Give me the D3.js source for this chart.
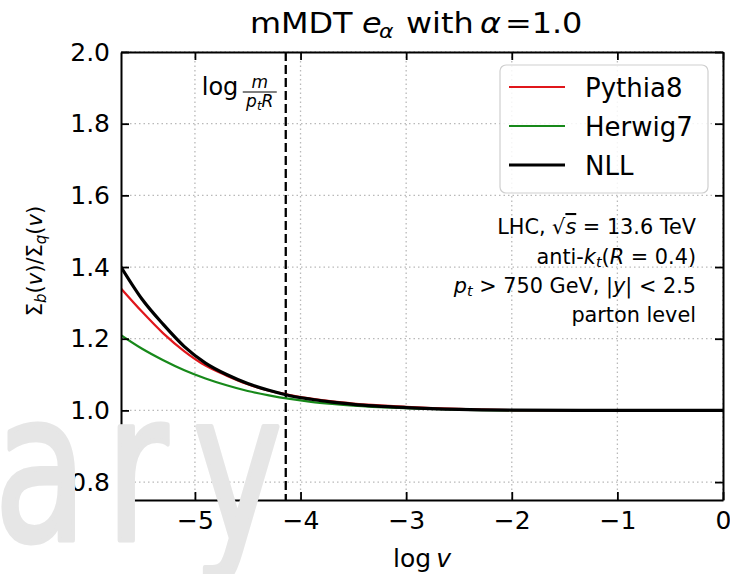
<!DOCTYPE html>
<html><head><meta charset="utf-8">
<script src="https://cdn.jsdelivr.net/npm/d3@7"></script>
<style>
body{margin:0;background:#fff}
svg{display:block}
text{font-family:"DejaVu Sans",sans-serif;fill:#000}
</style>
</head><body>
<svg id="chart" width="730" height="574"></svg>
<script>
// ---- data ----
const logv    = [-5.7, -5.5, -5.3, -5.1, -4.9, -4.7, -4.5, -4.3, -4.1, -3.9, -3.7, -3.5, -3.0, -2.5, -2.0, -1.0, 0.0];
const pythia8 = [1.340, 1.275, 1.215, 1.165, 1.125, 1.097, 1.073, 1.055, 1.043, 1.033, 1.025, 1.019, 1.010, 1.004, 1.001, 1.000, 1.000];
const herwig7 = [1.210, 1.172, 1.140, 1.112, 1.089, 1.070, 1.054, 1.042, 1.032, 1.024, 1.018, 1.013, 1.006, 1.002, 1.000, 1.000, 1.000];
const nll     = [1.400, 1.310, 1.240, 1.178, 1.132, 1.100, 1.075, 1.056, 1.041, 1.031, 1.023, 1.017, 1.008, 1.003, 1.001, 1.000, 1.000];
const seriesNames  = ["Pythia8", "Herwig7", "NLL"];
const xTicks = [-5, -4, -3, -2, -1, 0];
const yTicks = [0.8, 1.0, 1.2, 1.4, 1.6, 1.8, 2.0];
const xDomain = [-5.7, 0];
const yDomain = [0.75, 2.0];
const logMoverPtR = -4.14;

// ---- layout / style ----
const W = 730, H = 574;
const M = {left: 121, right: 7, top: 52, bottom: 74};
const colors = {"Pythia8": "#e0161b", "Herwig7": "#17891a", "NLL": "#000000"};
const widths = {"Pythia8": 2.2, "Herwig7": 2.2, "NLL": 3.2};
const seriesData = {"Pythia8": pythia8, "Herwig7": herwig7, "NLL": nll};

const svg = d3.select("#chart");
const x = d3.scaleLinear().domain(xDomain).range([M.left, W - M.right]);
const y = d3.scaleLinear().domain(yDomain).range([H - M.bottom, M.top]);

// grid
const grid = svg.append("g").attr("stroke", "#b9b9b9").attr("stroke-width", 1.3).attr("stroke-dasharray", "1.5,3");
grid.selectAll("line.gx").data(xTicks).join("line")
  .attr("x1", d => x(d)).attr("x2", d => x(d)).attr("y1", M.top).attr("y2", H - M.bottom);
grid.selectAll("line.gy").data(yTicks).join("line")
  .attr("y1", d => y(d)).attr("y2", d => y(d)).attr("x1", M.left).attr("x2", W - M.right);

// clip
svg.append("clipPath").attr("id", "clip").append("rect")
  .attr("x", M.left).attr("y", M.top).attr("width", W - M.left - M.right).attr("height", H - M.top - M.bottom);

// dashed vertical line
svg.append("line")
  .attr("x1", x(logMoverPtR)).attr("x2", x(logMoverPtR))
  .attr("y1", M.top).attr("y2", H - M.bottom)
  .attr("stroke", "#000").attr("stroke-width", 2.3).attr("stroke-dasharray", "9,4");

// curves
const line = d3.line().x((d, i) => x(logv[i])).y(d => y(d)).curve(d3.curveMonotoneX);
svg.append("g").attr("clip-path", "url(#clip)")
  .selectAll("path").data(["Herwig7", "Pythia8", "NLL"]).join("path")
  .attr("d", k => line(seriesData[k]))
  .attr("fill", "none").attr("stroke", k => colors[k]).attr("stroke-width", k => widths[k])
  .attr("stroke-linejoin", "round");

// axes (ticks pointing inward)
const fmtY = d3.format(".1f");
const fmtX = d3.format("d");
const axB = svg.append("g").attr("transform", `translate(0,${H - M.bottom})`)
  .call(d3.axisBottom(x).tickValues(xTicks).tickFormat(fmtX).tickSizeInner(-8).tickSizeOuter(0).tickPadding(11));
const axL = svg.append("g").attr("transform", `translate(${M.left},0)`)
  .call(d3.axisLeft(y).tickValues(yTicks).tickFormat(fmtY).tickSizeInner(-8).tickSizeOuter(0).tickPadding(11));
const axT = svg.append("g").attr("transform", `translate(0,${M.top})`)
  .call(d3.axisTop(x).tickValues(xTicks).tickFormat("").tickSizeInner(-8).tickSizeOuter(0));
const axR = svg.append("g").attr("transform", `translate(${W - M.right},0)`)
  .call(d3.axisRight(y).tickValues(yTicks).tickFormat("").tickSizeInner(-8).tickSizeOuter(0));
[axB, axL, axT, axR].forEach(a => {
  a.select(".domain").attr("stroke", "#000").attr("stroke-width", 2);
  a.selectAll(".tick line").attr("stroke", "#000").attr("stroke-width", 1.8);
  a.selectAll(".tick text").attr("font-family", "DejaVu Sans").attr("font-size", 25).attr("fill", "#000");
});

// legend
const lg = svg.append("g");
lg.append("rect").attr("x", 500).attr("y", 65).attr("width", 208).attr("height", 128)
  .attr("rx", 6).attr("fill", "#fff").attr("fill-opacity", 0.85).attr("stroke", "#cfcfcf").attr("stroke-width", 1.2);
const rowsY = [87, 126, 165];
const le = lg.selectAll("g.e").data(seriesNames).join("g").attr("transform", (d, i) => `translate(0,${rowsY[i]})`);
le.append("line").attr("x1", 509).attr("x2", 565).attr("y1", 0).attr("y2", 0)
  .attr("stroke", d => colors[d]).attr("stroke-width", d => widths[d]);
le.append("text").attr("x", 585).attr("y", 9.5).attr("font-size", 26).text(d => d);

// title (pieces placed along the baseline, slight horizontal stretch)
const sx = 1.1;
const title = svg.append("text").attr("transform", `translate(0,33) scale(${sx},1)`).attr("font-size", 29);
title.append("tspan").attr("x", 250 / sx).text("mMDT");
title.append("tspan").attr("x", 362 / sx).attr("font-style", "italic").text("e");
title.append("tspan").attr("x", 379 / sx).attr("font-style", "italic").attr("font-size", 20).attr("dy", 5).text("α");
title.append("tspan").attr("x", 406 / sx).attr("dy", -5).text("with");
title.append("tspan").attr("x", 480 / sx).attr("font-style", "italic").text("α");
title.append("tspan").attr("x", 505 / sx).text("=1.0");

// x label
const xl = svg.append("text").attr("x", 422).attr("y", 567).attr("text-anchor", "middle").attr("font-size", 25);
xl.append("tspan").text("log\u2009");
xl.append("tspan").attr("font-style", "italic").text("v");

// y label
const yl = svg.append("text").attr("transform", "translate(42,261) rotate(-90)").attr("text-anchor", "middle").attr("font-size", 21);
yl.append("tspan").text("Σ");
yl.append("tspan").attr("font-style", "italic").attr("font-size", 15).attr("dy", 4).text("b");
yl.append("tspan").attr("dy", -4).text("(");
yl.append("tspan").attr("font-style", "italic").text("v");
yl.append("tspan").text(")/Σ");
yl.append("tspan").attr("font-style", "italic").attr("font-size", 15).attr("dy", 4).text("q");
yl.append("tspan").attr("dy", -4).text("(");
yl.append("tspan").attr("font-style", "italic").text("v");
yl.append("tspan").text(")");

// dashed line label  log m/(p_t R)
const xc = x(logMoverPtR);
svg.append("text").attr("x", xc - 84).attr("y", 95).attr("font-size", 24).text("log");
svg.append("text").attr("x", xc - 26).attr("y", 88).attr("text-anchor", "middle").attr("font-size", 17).attr("font-style", "italic").text("m");
svg.append("line").attr("x1", xc - 43).attr("x2", xc - 9).attr("y1", 92).attr("y2", 92).attr("stroke", "#000").attr("stroke-width", 1.2);
const den = svg.append("text").attr("x", xc - 26).attr("y", 107).attr("text-anchor", "middle").attr("font-size", 17).attr("font-style", "italic");
den.append("tspan").text("p");
den.append("tspan").attr("font-size", 12).attr("dy", 3).text("t");
den.append("tspan").attr("dy", -3).text("R");

// annotation block
const ax = 696, fs = 20.8;
const t1 = svg.append("text").attr("x", ax).attr("y", 234).attr("text-anchor", "end").attr("font-size", fs);
t1.append("tspan").text("LHC, √");
t1.append("tspan").attr("font-style", "italic").attr("text-decoration", "overline").text("s");
t1.append("tspan").text(" = 13.6 TeV");
const t2 = svg.append("text").attr("x", ax).attr("y", 263.5).attr("text-anchor", "end").attr("font-size", fs);
t2.append("tspan").text("anti-");
t2.append("tspan").attr("font-style", "italic").text("k");
t2.append("tspan").attr("font-style", "italic").attr("font-size", 14.5).attr("dy", 3).text("t");
t2.append("tspan").attr("dy", -3).text("(");
t2.append("tspan").attr("font-style", "italic").text("R");
t2.append("tspan").text(" = 0.4)");
const t3 = svg.append("text").attr("x", ax).attr("y", 293).attr("text-anchor", "end").attr("font-size", fs);
t3.append("tspan").attr("font-style", "italic").text("p");
t3.append("tspan").attr("font-style", "italic").attr("font-size", 14.5).attr("dy", 3).text("t");
t3.append("tspan").attr("dy", -3).text(" > 750 GeV, |");
t3.append("tspan").attr("font-style", "italic").text("y");
t3.append("tspan").text("| < 2.5");
svg.append("text").attr("x", ax).attr("y", 322).attr("text-anchor", "end").attr("font-size", fs).text("parton level");

// watermark (partial)
const wm = svg.append("g").attr("transform", "translate(0,540) scale(0.73,1)");
const wmText = wm.append("text").attr("font-size", 207)
  .style("fill", "#e6e6e6").style("stroke", "#e6e6e6").style("stroke-width", 5).style("stroke-linejoin", "round");
wmText.append("tspan").attr("x", -8).text("a");
wmText.append("tspan").attr("x", 145).text("r");
wmText.append("tspan").attr("x", 264).text("y");
</script>
</body></html>
